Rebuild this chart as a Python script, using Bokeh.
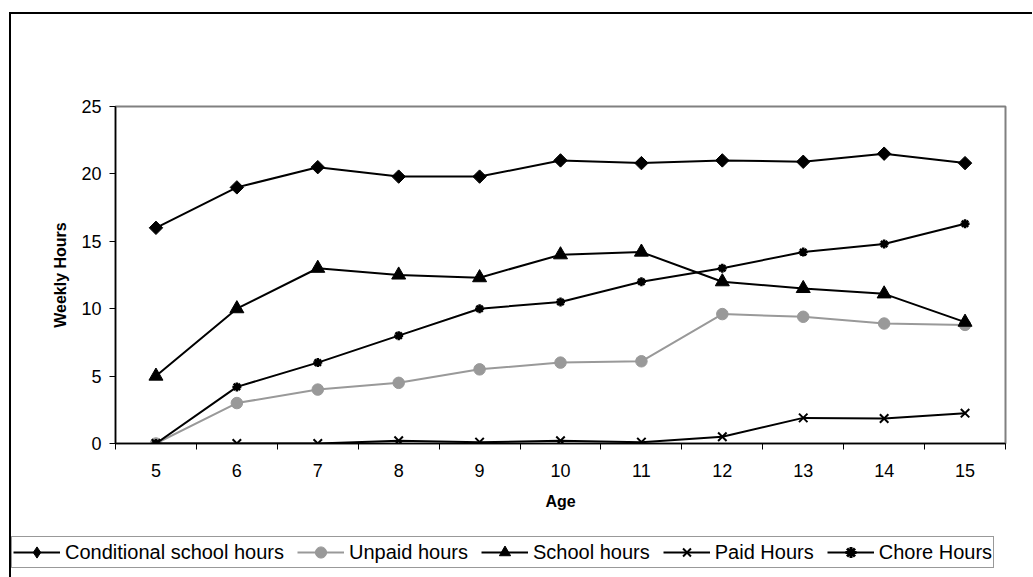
import math
from bokeh.plotting import figure
from bokeh.layouts import column
from bokeh.models import FixedTicker, Legend, LegendItem
from bokeh.embed import file_html
from bokeh.resources import INLINE

ages = [5, 6, 7, 8, 9, 10, 11, 12, 13, 14, 15]
conditional_school = [16.0, 19.0, 20.5, 19.8, 19.8, 21.0, 20.8, 21.0, 20.9, 21.5, 20.8]
unpaid = [0.0, 3.0, 4.0, 4.5, 5.5, 6.0, 6.1, 9.6, 9.4, 8.9, 8.8]
school = [5.0, 10.0, 13.0, 12.5, 12.3, 14.0, 14.2, 12.0, 11.5, 11.1, 9.0]
paid = [0.0, 0.0, 0.0, 0.2, 0.1, 0.2, 0.1, 0.5, 1.9, 1.85, 2.25]
chore = [0.0, 4.2, 6.0, 8.0, 10.0, 10.5, 12.0, 13.0, 14.2, 14.8, 16.3]
y_ticks = [0, 5, 10, 15, 20, 25]
series_names = ["Conditional school hours", "Unpaid hours", "School hours", "Paid Hours", "Chore Hours"]

FONT = "Liberation Sans"

p = figure(width=1021, height=522, output_backend="svg", toolbar_location=None,
           x_range=(4.5, 15.5), y_range=(0, 25),
           min_border_left=104, min_border_right=27, min_border_top=92, min_border_bottom=93)
p.frame_align = False
p.background_fill_color = "white"
p.border_fill_color = "white"
p.outline_line_color = "#808080"
p.outline_line_width = 2
p.xgrid.visible = False
p.ygrid.visible = False

p.xaxis.ticker = FixedTicker(ticks=ages, minor_ticks=[a - 0.5 for a in ages] + [15.5])
p.xaxis.major_tick_line_color = None
p.xaxis.major_tick_out = 6
p.xaxis.minor_tick_out = 6
p.xaxis.minor_tick_in = 0
p.xaxis.minor_tick_line_color = "black"
p.xaxis.minor_tick_line_width = 1
p.xaxis.axis_label = "Age"
p.yaxis.ticker = FixedTicker(ticks=y_ticks)
p.yaxis.major_tick_out = 6
p.yaxis.major_tick_in = 0
p.yaxis.minor_tick_line_color = None
p.yaxis.axis_label = "Weekly Hours"
for ax in (p.xaxis, p.yaxis):
    ax.axis_line_color = "black"
    ax.axis_line_width = 1.5
    ax.major_label_text_font = FONT
    ax.major_label_text_font_size = "18px"
    ax.major_label_text_color = "black"
    ax.axis_label_text_font = FONT
    ax.axis_label_text_font_size = "16px"
    ax.axis_label_text_font_style = "bold"
    ax.axis_label_text_color = "black"
p.yaxis.major_tick_line_color = "black"
p.xaxis.major_label_standoff = 14
p.yaxis.major_label_standoff = 8
p.xaxis.axis_label_standoff = 13
p.yaxis.axis_label_standoff = 9

styles = [
    dict(line=dict(line_color="black", line_width=2),
         marker=dict(marker="square", angle=math.pi / 4, size=9.5, fill_color="black", line_color="black")),
    dict(line=dict(line_color="#999999", line_width=2),
         marker=dict(marker="circle", size=11.5, fill_color="#999999", line_color="#999999")),
    dict(line=dict(line_color="black", line_width=2),
         marker=dict(marker="triangle", size=14, fill_color="black", line_color="black")),
    dict(line=dict(line_color="black", line_width=2),
         marker=dict(marker="x", size=12, line_color="black", line_width=2)),
    dict(line=dict(line_color="black", line_width=2),
         marker=dict(marker="asterisk", size=9, line_color="black", line_width=2.5)),
]
series = [conditional_school, unpaid, school, paid, chore]

for vals, st in zip(series, styles):
    p.line(ages, vals, **st["line"])
    p.scatter(ages, vals, **st["marker"])

# legend strip (separate canvas so the box can span the full width)
lg = figure(width=1021, height=41, output_backend="svg", toolbar_location=None,
            x_range=(0, 1), y_range=(0, 1), min_border=0)
lg.frame_align = False
lg.axis.visible = False
lg.xgrid.visible = False
lg.ygrid.visible = False
lg.outline_line_color = None
lg.background_fill_color = "white"
lg.border_fill_color = "white"
items = []
for i, (name, st) in enumerate(zip(series_names, styles)):
    mk = dict(st["marker"])
    mk.pop("angle", None)
    if i == 0:
        mk["marker"] = "diamond"
    if i == 4:
        mk["line_width"] = 3
    r1 = lg.line([-5, -4], [-5, -4], **st["line"])
    r2 = lg.scatter([-5], [-5], **mk)
    items.append(LegendItem(label=name, renderers=[r1, r2]))
legend = Legend(items=items, orientation="horizontal", location="top_left",
                glyph_width=47, glyph_height=28, label_standoff=5, spacing=13,
                padding=1, margin=0, border_line_color="#333333", border_line_width=1.5,
                label_text_font=FONT, label_text_font_size="20px", label_text_color="black",
                background_fill_color="white", background_fill_alpha=1)
lg.add_layout(legend, "center")

layout = column(p, lg, spacing=0)
layout.margin = (12, 0, 0, 9)
layout.styles = {"border-left": "2px solid black", "border-top": "2px solid black"}

open("out.html", "w").write(file_html(layout, INLINE))
